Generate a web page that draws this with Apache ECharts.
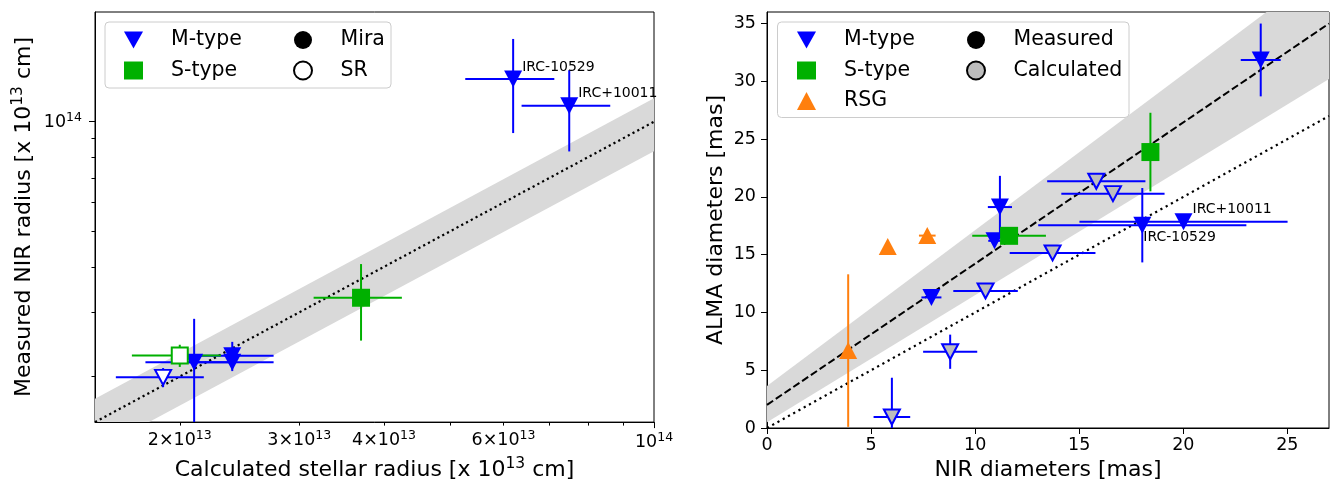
<!DOCTYPE html>
<html><head><meta charset="utf-8">
<script src="https://cdn.jsdelivr.net/npm/echarts@6.0.0/dist/echarts.min.js"></script>
<style>html,body{margin:0;padding:0;background:#fff}#c{width:1331px;height:486px}</style>
</head><body><div id="c"></div>
<script>
// ===================== DATA =====================
// Left panel: radii in units of 1e13 cm
const leftMMiraX    = [2.10, 2.39, 2.39, 6.20, 7.50];
const leftMMiraY    = [2.19, 2.28, 2.19, 13.09, 11.07];
const leftMMiraXErr = [0.32, 0.36, 0.36, 0.93, 1.12];
const leftMMiraYErr = [0.69, 0.21, 0.08, 3.78, 2.78];
const leftMMiraName = ['', '', '', 'IRC-10529', 'IRC+10011'];

const leftMSrX = [1.89], leftMSrY = [1.99], leftMSrXErr = [0.28], leftMSrYErr = [0.12];
const leftSMiraX = [3.70], leftSMiraY = [3.29], leftSMiraXErr = [0.55], leftSMiraYErr = [0.78];
const leftSSrX = [2.00], leftSSrY = [2.285], leftSSrXErr = [0.30], leftSSrYErr = [0.16];

const leftXRange = [1.5, 10];
const leftYRange = [1.5, 20];
const leftMinorTicks  = [2, 3, 4, 5, 6, 7, 8, 9];
const leftMinorLabels = [2, 3, 4, 6];
const leftMajorTicks  = [10];
const leftOneToOne    = [1.5, 10];
const leftBandX    = [1.2, 12];
const leftBandLow  = [1.0, 9.96];
const leftBandHigh = [1.39, 13.92];

// Right panel: diameters in mas
const rightMMeasX    = [23.72, 11.19, 10.93, 7.90, 18.03, 20.01];
const rightMMeasY    = [31.85, 19.12, 16.20, 11.30, 17.55, 17.85];
const rightMMeasXErr = [0.96, 0.58, 0.30, 0.48, 5.00, 5.00];
const rightMMeasYErr = [3.15, 2.70, 0.30, 0.40, 3.22, 0.30];
const rightMMeasName = ['', '', '', '', 'IRC-10529', 'IRC+10011'];

const rightMCalcX    = [15.82, 16.62, 13.72, 10.50, 8.80, 6.00];
const rightMCalcY    = [21.35, 20.28, 15.15, 11.86, 6.60, 0.95];
const rightMCalcXErr = [2.36, 2.48, 2.06, 1.55, 1.30, 0.88];
const rightMCalcYErr = [0, 0, 0, 0, 1.48, 3.40];

const rightSX = [18.42, 11.63], rightSY = [23.88, 16.63], rightSXErr = [0, 1.77], rightSYErr = [3.40, 0.30];

const rightRsgX    = [3.90, 5.80, 7.70];
const rightRsgY    = [6.70, 15.70, 16.65];
const rightRsgXErr = [0, 0, 0.40];
const rightRsgYErr = [6.60, 0, 0.30];

const rightXRange = [0, 27];
const rightYRange = [0, 36];
const rightXTicks = [0, 5, 10, 15, 20, 25];
const rightYTicks = [0, 5, 10, 15, 20, 25, 30, 35];
const rightOneToOne = [0, 27];
const rightFitX = [0, 27];
const rightFitY = [2.0, 35.0];
const rightBandX    = [0, 27];
const rightBandLow  = [0.5, 30.2];
const rightBandHigh = [3.63, 40.05];

// ===================== STYLE =====================
const FONT = 'DejaVu Sans';
const BLUE = '#0000ff', GREEN = '#00b000', ORANGE = '#ff7f0e', GRAYFILL = '#bdbdbd', BAND = '#d9d9d9';
const lg = v => Math.log10(v) + 13;   // units of 1e13 cm -> log10(cm)
const id = v => v;

function errRows(xs, ys, xe, ye, f) {
  return xs.map((x, i) => [f(x), f(ys[i]), f(x - xe[i]), f(x + xe[i]), f(ys[i] - ye[i]), f(ys[i] + ye[i])]);
}
function errSeries(rows, color, gi) {
  return {
    type: 'custom', xAxisIndex: gi === 0 ? 0 : 2, yAxisIndex: gi === 0 ? 0 : 2, clip: true, silent: true,
    data: rows, z: 3,
    renderItem: (params, api) => {
      const y = api.value(1), x = api.value(0);
      const a = api.coord([api.value(2), y]), b = api.coord([api.value(3), y]);
      const c = api.coord([x, api.value(4)]), d = api.coord([x, api.value(5)]);
      const st = { stroke: color, lineWidth: 2, fill: null };
      return { type: 'group', children: [
        { type: 'line', shape: { x1: a[0], y1: a[1], x2: b[0], y2: b[1] }, style: st },
        { type: 'line', shape: { x1: c[0], y1: c[1], x2: d[0], y2: d[1] }, style: st }
      ]};
    }
  };
}
function scatterSeries(name, xs, ys, f, gi, sym, style, names) {
  return {
    type: 'scatter', name: name, xAxisIndex: gi === 0 ? 0 : 2, yAxisIndex: gi === 0 ? 0 : 2, z: 4, silent: true,
    symbol: sym.symbol, symbolRotate: sym.rotate || 0, symbolSize: sym.size,
    itemStyle: Object.assign({ opacity: 1 }, style),
    data: xs.map((x, i) => {
      const item = { value: [f(x), f(ys[i])] };
      if (names && names[i]) {
        const below = (gi === 1 && names[i] === 'IRC-10529');
        item.label = { show: true, formatter: names[i], position: 'right', distance: 0,
          offset: below ? [-8, 12] : [0, -12],
          fontFamily: FONT, fontSize: 14, color: '#000' };
      }
      return item;
    })
  };
}
function bandSeries(bx, bl, bh, f, gi) {
  return {
    type: 'custom', xAxisIndex: gi === 0 ? 0 : 2, yAxisIndex: gi === 0 ? 0 : 2, clip: true, silent: true, z: 1,
    data: bx.map((x, i) => [f(x), f(bl[i]), f(bh[i])]),
    renderItem: (params, api) => {
      if (params.dataIndex !== 0) return null;
      const pts = [];
      for (let i = 0; i < bx.length; i++) pts.push(api.coord([f(bx[i]), f(bl[i])]));
      for (let i = bx.length - 1; i >= 0; i--) pts.push(api.coord([f(bx[i]), f(bh[i])]));
      return { type: 'polygon', shape: { points: pts }, style: { fill: BAND } };
    }
  };
}
function lineSeries(xs, ys, f, gi, type, w) {
  return {
    type: 'line', xAxisIndex: gi === 0 ? 0 : 2, yAxisIndex: gi === 0 ? 0 : 2, silent: true, z: 2,
    symbol: 'none', data: xs.map((x, i) => [f(x), f(ys[i])]),
    lineStyle: { color: '#000', width: w || 2, type: type, cap: 'butt', opacity: 1 }
  };
}

const tickRich = {
  n: { fontFamily: FONT, fontSize: 17.5, color: '#000', verticalAlign: 'bottom' },
  s: { fontFamily: FONT, fontSize: 12.5, color: '#000', verticalAlign: 'bottom', padding: [0, 0, 7, 0] }
};
const nameRich = {
  m: { fontFamily: FONT, fontSize: 22, color: '#000', verticalAlign: 'bottom' },
  s: { fontFamily: FONT, fontSize: 15.5, color: '#000', verticalAlign: 'bottom', padding: [0, 0, 9, 0] }
};
const axisBase = {
  type: 'value', splitLine: { show: false },
  axisLine: { show: true, onZero: false, lineStyle: { color: '#000', width: 1 } }
};
const majorFmt = v => '{n|10}{s|' + Math.round(v) + '}';
const minorFmt = v => '{n|' + Math.round(Math.pow(10, v - 13)) + '×10}{s|13}';

const xAxes = [
  Object.assign({}, axisBase, {
    gridIndex: 0, position: 'bottom', min: lg(leftXRange[0]), max: lg(leftXRange[1]),
    axisTick: { customValues: leftMajorTicks.map(lg), length: 6, lineStyle: { color: '#000' } },
    axisLabel: { customValues: leftMajorTicks.map(lg), formatter: majorFmt, rich: tickRich, margin: 9 },
    name: '{m|Calculated stellar radius [x 10}{s|13}{m| cm]}', nameLocation: 'middle', nameGap: 29,
    nameTextStyle: { fontFamily: FONT, fontSize: 22, color: '#000', rich: nameRich }
  }),
  Object.assign({}, axisBase, {
    gridIndex: 0, position: 'bottom', min: lg(leftXRange[0]), max: lg(leftXRange[1]),
    axisLine: { show: false },
    axisTick: { customValues: leftMinorTicks.map(lg), length: 3.5, lineStyle: { color: '#000' } },
    axisLabel: { customValues: leftMinorLabels.map(lg), formatter: minorFmt, rich: tickRich, margin: 7 }
  }),
  Object.assign({}, axisBase, {
    gridIndex: 1, position: 'bottom', min: rightXRange[0], max: rightXRange[1],
    axisTick: { customValues: rightXTicks, length: 6, lineStyle: { color: '#000' } },
    axisLabel: { customValues: rightXTicks, fontFamily: FONT, fontSize: 17.5, color: '#000', margin: 8 },
    name: 'NIR diameters [mas]', nameLocation: 'middle', nameGap: 29,
    nameTextStyle: { fontFamily: FONT, fontSize: 22, color: '#000' }
  })
];
const yAxes = [
  Object.assign({}, axisBase, {
    gridIndex: 0, position: 'left', min: lg(leftYRange[0]), max: lg(leftYRange[1]),
    axisTick: { customValues: leftMajorTicks.map(lg), length: 6, lineStyle: { color: '#000' } },
    axisLabel: { customValues: leftMajorTicks.map(lg), formatter: majorFmt, rich: tickRich, margin: 13 },
    name: '{m|Measured NIR radius [x 10}{s|13}{m| cm]}', nameLocation: 'middle', nameGap: 60, nameRotate: 90,
    nameTextStyle: { fontFamily: FONT, fontSize: 22, color: '#000', rich: nameRich }
  }),
  Object.assign({}, axisBase, {
    gridIndex: 0, position: 'left', min: lg(leftYRange[0]), max: lg(leftYRange[1]),
    axisLine: { show: false },
    axisTick: { customValues: leftMinorTicks.map(lg), length: 3.5, lineStyle: { color: '#000' } },
    axisLabel: { show: false }
  }),
  Object.assign({}, axisBase, {
    gridIndex: 1, position: 'left', min: rightYRange[0], max: rightYRange[1],
    axisTick: { customValues: rightYTicks, length: 6, lineStyle: { color: '#000' } },
    axisLabel: { customValues: rightYTicks, fontFamily: FONT, fontSize: 17.5, color: '#000', margin: 11 },
    name: 'ALMA diameters [mas]', nameLocation: 'middle', nameGap: 40, nameRotate: 90,
    nameTextStyle: { fontFamily: FONT, fontSize: 22, color: '#000' }
  })
];

const downTri = { symbol: 'triangle', rotate: 180, size: [18, 17] };
const upTri = { symbol: 'triangle', size: [18, 17] };
const square = { symbol: 'rect', size: 18 };

const series = [
  bandSeries(leftBandX, leftBandLow, leftBandHigh, lg, 0),
  lineSeries(leftOneToOne, leftOneToOne, lg, 0, [2.2, 3.2], 2.2),
  errSeries(errRows(leftMMiraX, leftMMiraY, leftMMiraXErr, leftMMiraYErr, lg), BLUE, 0),
  scatterSeries('M Mira', leftMMiraX, leftMMiraY, lg, 0, downTri, { color: BLUE }, leftMMiraName),
  errSeries(errRows(leftMSrX, leftMSrY, leftMSrXErr, leftMSrYErr, lg), BLUE, 0),
  scatterSeries('M SR', leftMSrX, leftMSrY, lg, 0, { symbol: 'triangle', rotate: 180, size: [16, 15] }, { color: '#fff', borderColor: BLUE, borderWidth: 2 }),
  errSeries(errRows(leftSMiraX, leftSMiraY, leftSMiraXErr, leftSMiraYErr, lg), GREEN, 0),
  scatterSeries('S Mira', leftSMiraX, leftSMiraY, lg, 0, square, { color: GREEN }),
  errSeries(errRows(leftSSrX, leftSSrY, leftSSrXErr, leftSSrYErr, lg), GREEN, 0),
  scatterSeries('S SR', leftSSrX, leftSSrY, lg, 0, { symbol: 'rect', size: 16 }, { color: '#fff', borderColor: GREEN, borderWidth: 2 }),

  bandSeries(rightBandX, rightBandLow, rightBandHigh, id, 1),
  lineSeries(rightOneToOne, rightOneToOne, id, 1, [2.2, 3.8], 2.2),
  lineSeries(rightFitX, rightFitY, id, 1, [7.4, 3.2], 2),
  errSeries(errRows(rightMMeasX, rightMMeasY, rightMMeasXErr, rightMMeasYErr, id), BLUE, 1),
  scatterSeries('M meas', rightMMeasX, rightMMeasY, id, 1, downTri, { color: BLUE }, rightMMeasName),
  errSeries(errRows(rightMCalcX, rightMCalcY, rightMCalcXErr, rightMCalcYErr, id), BLUE, 1),
  scatterSeries('M calc', rightMCalcX, rightMCalcY, id, 1, { symbol: 'triangle', rotate: 180, size: [16, 15] }, { color: GRAYFILL, borderColor: BLUE, borderWidth: 2 }),
  errSeries(errRows(rightSX, rightSY, rightSXErr, rightSYErr, id), GREEN, 1),
  scatterSeries('S meas', rightSX, rightSY, id, 1, square, { color: GREEN }),
  errSeries(errRows(rightRsgX, rightRsgY, rightRsgXErr, rightRsgYErr, id), ORANGE, 1),
  scatterSeries('RSG meas', rightRsgX, rightRsgY, id, 1, upTri, { color: ORANGE })
];

// legend-only entries
const legendItems = {
  'M-type':     { icon: 'path://M0,0L20,0L10,18Z', itemStyle: { color: BLUE, opacity: 1 } },
  'S-type':     { icon: 'rect', itemStyle: { color: GREEN, opacity: 1 } },
  'RSG':        { icon: 'triangle', itemStyle: { color: ORANGE, opacity: 1 } },
  'Mira':       { icon: 'circle', itemStyle: { color: '#000', opacity: 1 } },
  'SR':         { icon: 'circle', itemStyle: { color: '#fff', borderColor: '#000', borderWidth: 2, opacity: 1 } },
  'Measured':   { icon: 'circle', itemStyle: { color: '#000', opacity: 1 } },
  'Calculated': { icon: 'circle', itemStyle: { color: GRAYFILL, borderColor: '#000', borderWidth: 2, opacity: 1 } }
};
Object.keys(legendItems).forEach(n => series.push({
  type: 'scatter', name: n, data: [], xAxisIndex: 0, yAxisIndex: 0,
  itemStyle: Object.assign({}, legendItems[n].itemStyle)
}));

function mkLegend(names, left, top) {
  return {
    orient: 'vertical', left: left, top: top, padding: 0, itemWidth: 19, itemHeight: 18, itemGap: 9.5,
    selectedMode: false, z: 8,
    textStyle: { fontFamily: FONT, fontSize: 20.5, color: '#000', lineHeight: 18, padding: [0, 0, 0, 23] },
    data: names.map(n => Object.assign({ name: n }, legendItems[n]))
  };
}

const option = {
  animation: false,
  backgroundColor: '#fff',
  grid: [
    { left: 95, top: 12, width: 559, height: 416, show: true, borderColor: '#000', borderWidth: 1 },
    { left: 767, top: 12, width: 562, height: 416, show: true, borderColor: '#000', borderWidth: 1 }
  ],
  xAxis: xAxes,
  yAxis: yAxes,
  legend: [
    mkLegend(['M-type', 'S-type'], 124, 29.5),
    mkLegend(['Mira', 'SR'], 293, 29.5),
    mkLegend(['M-type', 'S-type', 'RSG'], 797, 29.5),
    mkLegend(['Measured', 'Calculated'], 966, 29.5)
  ],
  graphic: [
    { type: 'rect', z: 7, shape: { x: 105, y: 22, width: 286, height: 66, r: 4 },
      style: { fill: 'rgba(255,255,255,0.85)', stroke: '#cccccc', lineWidth: 1 } },
    { type: 'rect', z: 7, shape: { x: 777.5, y: 22, width: 351.5, height: 95.5, r: 4 },
      style: { fill: 'rgba(255,255,255,0.85)', stroke: '#cccccc', lineWidth: 1 } }
  ],
  series: series
};
const chart = echarts.init(document.getElementById('c'), null, { renderer: 'canvas', width: 1331, height: 486 });
chart.setOption(option);
</script>
</body></html>
